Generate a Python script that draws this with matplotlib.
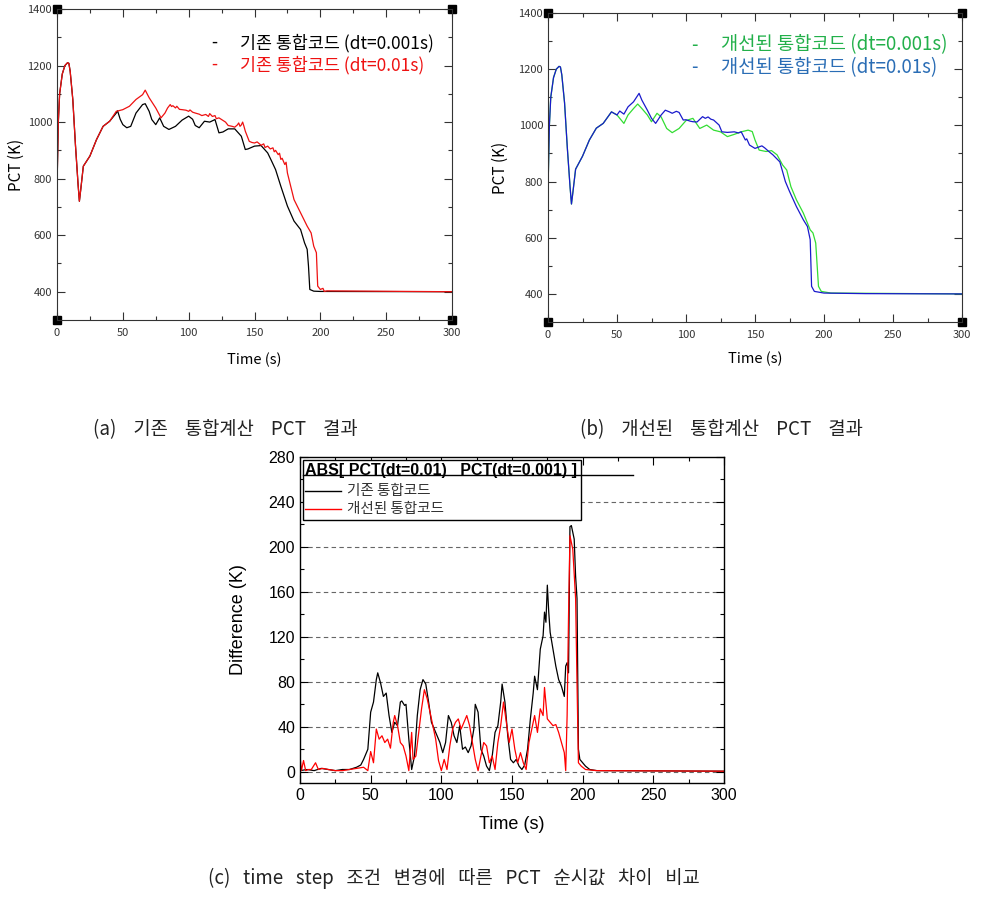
import matplotlib.pyplot as plt
from matplotlib.lines import Line2D
from matplotlib.ticker import MultipleLocator

plt.rcParams['font.family'] = ['Noto Sans CJK KR', 'DejaVu Sans']

# ---- (a) original code, PCT vs time ----
a_t_fine = [0, 1, 2, 4, 6, 8, 9, 10, 12, 14, 16, 17, 18, 20, 25, 30, 35, 40, 45, 46,
            48, 50, 53, 56, 60, 63, 65, 67, 70, 72, 75, 78, 81, 85, 90, 95, 100, 103,
            105, 108, 112, 116, 120, 123, 126, 130, 135, 140, 143, 145, 150, 155, 160,
            163, 166, 170, 175, 180, 185, 188, 190, 191, 192, 195, 200, 300]
a_pct_fine = [767, 1000, 1100, 1170, 1200, 1210, 1208, 1180, 1080, 920, 780, 720, 760,
              844, 880, 938, 985, 1003, 1032, 1040, 1010, 991, 980, 985, 1032, 1050,
              1062, 1065, 1038, 1009, 991, 1015, 985, 974, 985, 1007, 1021, 1010, 988,
              980, 1003, 1000, 1009, 962, 965, 976, 976, 950, 903, 905, 915, 917, 891,
              862, 832, 773, 703, 650, 620, 573, 550, 491, 408, 402, 401, 400]

a_t_coarse = [0, 1, 2, 4, 6, 8, 9, 10, 12, 14, 16, 17, 18, 20, 25, 30, 35, 40, 45, 50,
              55, 60, 65, 67, 70, 75, 79, 82, 84, 86, 87, 88, 90, 91, 93, 95, 98, 100,
              101, 103, 105, 108, 110, 113, 115, 116, 118, 120, 121, 123, 125, 128, 130,
              133, 135, 137, 138, 139, 140, 141, 142, 143, 146, 148, 150, 152, 155, 157,
              158, 160, 162, 164, 165, 166, 168, 169, 170, 171, 173, 174, 175, 180, 185,
              190, 193, 195, 197, 198, 200, 202, 203, 205, 300]
a_pct_coarse = [767, 1000, 1100, 1170, 1200, 1210, 1208, 1180, 1080, 920, 780, 720, 760,
                844, 880, 938, 985, 1003, 1038, 1044, 1056, 1080, 1097, 1113, 1086, 1050,
                1015, 1032, 1050, 1062, 1055, 1058, 1050, 1056, 1045, 1044, 1042, 1038,
                1043, 1035, 1032, 1028, 1023, 1027, 1020, 1030, 1020, 1023, 1012, 1015,
                1009, 1000, 988, 985, 982, 990, 997, 985, 990, 1000, 985, 968, 932, 928,
                926, 930, 918, 923, 910, 915, 905, 909, 895, 900, 885, 890, 868, 872, 850,
                858, 820, 726, 679, 632, 608, 561, 538, 420, 408, 412, 401, 403, 400]

# ---- (b) improved code, PCT vs time ----
b_t_fine = [0, 1, 2, 4, 6, 8, 9, 10, 12, 14, 16, 17, 18, 20, 25, 30, 35, 40, 46, 50,
            55, 58, 62, 65, 68, 72, 75, 79, 82, 86, 90, 95, 100, 105, 110, 115, 120, 125,
            130, 135, 140, 145, 148, 150, 153, 158, 162, 166, 170, 173, 176, 180, 185,
            190, 192, 194, 196, 198, 205, 300]
b_pct_fine = [767, 1000, 1100, 1170, 1200, 1210, 1208, 1180, 1080, 920, 780, 720, 760,
              844, 890, 948, 990, 1007, 1048, 1037, 1007, 1037, 1060, 1076, 1060, 1037,
              1013, 1043, 1030, 989, 974, 989, 1017, 1025, 989, 1001, 983, 977, 960, 968,
              977, 983, 978, 948, 912, 907, 910, 895, 859, 841, 782, 735, 688, 628, 617,
              581, 427, 409, 403, 400]

b_t_coarse = [0, 1, 2, 4, 6, 8, 9, 10, 12, 14, 16, 17, 18, 20, 25, 30, 35, 40, 46, 50,
              52, 55, 58, 62, 66, 68, 72, 75, 78, 82, 85, 88, 90, 93, 95, 98, 100, 103,
              105, 108, 112, 114, 116, 118, 120, 124, 126, 130, 135, 138, 140, 143, 144,
              146, 150, 155, 157, 160, 163, 165, 168, 172, 175, 180, 185, 188, 190, 191,
              193, 200, 230, 300]
b_pct_coarse = [767, 1000, 1100, 1170, 1200, 1210, 1208, 1180, 1080, 920, 780, 720, 760,
                844, 890, 948, 990, 1007, 1048, 1037, 1051, 1040, 1066, 1084, 1114, 1090,
                1054, 1025, 1007, 1037, 1054, 1048, 1043, 1050, 1046, 1019, 1020, 1015,
                1013, 1012, 1031, 1025, 1030, 1022, 1019, 1001, 977, 975, 977, 973, 977,
                948, 952, 930, 918, 927, 920, 907, 895, 885, 870, 800, 765, 711, 664, 640,
                593, 427, 409, 403, 401, 400]

# ---- (c) absolute difference ----
c_t_old = [0, 5, 10, 15, 20, 25, 30, 35, 40, 43, 45, 48, 50, 52, 54, 55, 57, 59, 61, 63,
           65, 67, 69, 71, 72, 74, 75, 77, 79, 81, 83, 85, 87, 89, 91, 93, 95, 97, 99,
           101, 103, 105, 107, 109, 111, 113, 115, 117, 119, 121, 123, 124, 126, 128,
           130, 132, 134, 136, 138, 140, 142, 143, 145, 147, 149, 151, 153, 155, 157,
           159, 161, 163, 165, 166, 168, 170, 172, 173, 174, 175, 176, 177, 179, 181,
           183, 185, 187, 188, 189, 190, 191, 192, 194, 195, 196, 197, 198, 200, 202,
           205, 210, 300]
c_d_old = [1, 2, 1, 3, 2, 1, 2, 2, 4, 6, 11, 20, 53, 62, 82, 88, 79, 67, 70, 50, 35, 44,
           41, 62, 63, 59, 60, 29, 2, 14, 50, 73, 82, 78, 62, 44, 38, 32, 26, 17, 26, 50,
           44, 32, 26, 41, 20, 22, 17, 23, 38, 60, 53, 20, 14, 5, 1, 14, 35, 41, 62, 78,
           62, 32, 11, 8, 11, 5, 2, 6, 20, 47, 70, 85, 73, 109, 121, 142, 133, 166, 142,
           124, 109, 94, 82, 76, 67, 94, 97, 88, 218, 219, 207, 174, 154, 20, 11, 8, 5, 2,
           1, 0.5]

c_t_new = [0, 1, 2.5, 4, 6, 8, 11, 13, 16, 20, 25, 30, 35, 40, 45, 48, 50, 52, 54, 56,
           58, 60, 62, 64, 66, 67, 69, 71, 73, 75, 77, 79, 80, 82, 84, 86, 88, 90, 92,
           94, 96, 98, 100, 102, 104, 106, 108, 110, 112, 114, 116, 118, 120, 122, 124,
           126, 128, 130, 132, 134, 136, 138, 140, 142, 144, 146, 148, 150, 152, 154,
           156, 158, 160, 162, 164, 166, 168, 170, 172, 173, 175, 177, 179, 181, 183,
           185, 187, 188, 189, 190, 191, 193, 195, 196, 197, 199, 202, 210, 300]
c_d_new = [14, 1, 10, 1, 2, 2, 8, 2, 3, 2, 1, 1, 2, 3, 4, 1, 18, 8, 38, 29, 32, 26, 29,
           21, 44, 50, 41, 26, 23, 14, 1, 35, 11, 14, 35, 56, 73, 65, 53, 41, 29, 10, 1,
           11, 2, 23, 38, 44, 47, 38, 44, 50, 41, 26, 11, 1, 14, 26, 23, 8, 14, 2, 26,
           41, 62, 44, 26, 38, 20, 8, 17, 8, 2, 26, 38, 50, 35, 56, 50, 75, 47, 44, 41,
           42, 35, 26, 17, 1, 50, 139, 210, 198, 154, 79, 8, 5, 2, 1, 0.5]

W, H = 1002, 900
fig = plt.figure(figsize=(W / 100, H / 100), dpi=100)


def box(left, top, right, bottom):
    return [left / W, 1 - bottom / H, (right - left) / W, (bottom - top) / H]


def style_pct_axes(ax, xpad, ypad):
    ax.set_xlim(0, 300)
    ax.set_ylim(300, 1400)
    ax.xaxis.set_major_locator(MultipleLocator(50))
    ax.xaxis.set_minor_locator(MultipleLocator(25))
    ax.yaxis.set_minor_locator(MultipleLocator(100))
    ax.set_yticks([400, 600, 800, 1000, 1200, 1400])
    ax.tick_params(which='both', direction='in', top=True, right=True,
                   labelsize=8, colors='#333333', width=0.8)
    ax.tick_params(which='major', length=6)
    ax.tick_params(which='minor', length=3)
    ax.tick_params(axis='x', pad=6)
    for sp in ax.spines.values():
        sp.set_linewidth(0.8)
        sp.set_color('#333333')
    ax.set_xlabel('Time (s)', fontsize=10.5, labelpad=xpad)
    ax.set_ylabel('PCT (K)', fontsize=11, labelpad=ypad)
    for xc in (0, 1):
        for yc in (0, 1):
            ax.plot(xc, yc, 's', color='black', markersize=6,
                    transform=ax.transAxes, clip_on=False)


# (a)
ax_a = fig.add_axes(box(57, 9, 452, 320))
style_pct_axes(ax_a, 10, 2)
ax_a.plot(a_t_fine, a_pct_fine, color='black', lw=0.9)
ax_a.plot(a_t_coarse, a_pct_coarse, color='#ee1111', lw=0.9)
fig.text(211 / W, 1 - 43 / H, '-', color='black', fontsize=12.5, va='center')
fig.text(240 / W, 1 - 43 / H, '기존 통합코드 (dt=0.001s)', color='black',
         fontsize=12.5, va='center')
fig.text(211 / W, 1 - 65 / H, '-', color='#ee1111', fontsize=12.5, va='center')
fig.text(240 / W, 1 - 65 / H, '기존 통합코드 (dt=0.01s)', color='#ee1111',
         fontsize=12.5, va='center')

# (b)
ax_b = fig.add_axes(box(548, 13, 962, 322))
style_pct_axes(ax_b, 8, 7)
ax_b.plot(b_t_fine, b_pct_fine, color='#33dd33', lw=0.9)
ax_b.plot(b_t_coarse, b_pct_coarse, color='#1a1acc', lw=0.9)
fig.text(691 / W, 1 - 45 / H, '-', color='#22b04a', fontsize=13.5, va='center')
fig.text(721 / W, 1 - 45 / H, '개선된 통합코드 (dt=0.001s)', color='#22b04a',
         fontsize=13.5, va='center')
fig.text(691 / W, 1 - 68 / H, '-', color='#2a6db5', fontsize=13.5, va='center')
fig.text(721 / W, 1 - 68 / H, '개선된 통합코드 (dt=0.01s)', color='#2a6db5',
         fontsize=13.5, va='center')

# captions (wide spacing between words as in the original document)
fig.text(93 / W, 1 - 430 / H, '    '.join(['(a)', '기존', '통합계산', 'PCT', '결과']),
         ha='left', va='center', fontsize=13.5, color='#222222')
fig.text(580 / W, 1 - 430 / H, '    '.join(['(b)', '개선된', '통합계산', 'PCT', '결과']),
         ha='left', va='center', fontsize=13.5, color='#222222')
fig.text(208 / W, 1 - 878 / H,
         '   '.join(['(c)', 'time', 'step', '조건', '변경에', '따른', 'PCT', '순시값',
                     '차이', '비교']),
         ha='left', va='center', fontsize=13.5, color='#222222')

# (c)
ax_c = fig.add_axes(box(300, 457, 724, 783))
ax_c.set_xlim(0, 300)
ax_c.set_ylim(-10, 280)
ax_c.set_yticks([0, 40, 80, 120, 160, 200, 240, 280])
ax_c.xaxis.set_major_locator(MultipleLocator(50))
ax_c.xaxis.set_minor_locator(MultipleLocator(25))
ax_c.yaxis.set_minor_locator(MultipleLocator(20))
for g in [0, 40, 80, 120, 160, 200, 240]:
    ax_c.axhline(g, color='#666666', lw=0.8, ls=(0, (4, 3)), zorder=0)
ax_c.plot(c_t_old, c_d_old, color='black', lw=0.9)
ax_c.plot(c_t_new, c_d_new, color='#ff0000', lw=0.9)
ax_c.tick_params(which='both', direction='in', top=True, right=True,
                 labelsize=11.5, width=0.8, labelfontfamily='Liberation Sans')
ax_c.tick_params(which='major', length=6)
ax_c.tick_params(which='minor', length=3)
for s in ax_c.spines.values():
    s.set_linewidth(1.0)
ax_c.set_xlabel('Time (s)', fontsize=13, family='Liberation Sans')
ax_c.set_ylabel('Difference (K)', fontsize=13, family='Liberation Sans')
ax_c.xaxis.set_label_coords(0.5, -0.10)
ax_c.yaxis.set_label_coords(-0.125, 0.5)

# (c) legend box
fig.patches.append(plt.Rectangle((303 / W, 1 - 520 / H), (581 - 303) / W, 60 / H,
                                 transform=fig.transFigure, fill=True,
                                 facecolor='white', edgecolor='black', lw=1.0,
                                 zorder=5))
fig.text(305 / W, 1 - 471 / H, 'ABS[ PCT(dt=0.01)   PCT(dt=0.001) ]',
         fontsize=11.5, fontweight='bold', family='Liberation Sans', va='center',
         zorder=6)
fig.add_artist(Line2D([303 / W, 633 / W], [1 - 475 / H, 1 - 475 / H],
                      color='black', lw=1.0, zorder=6))
fig.add_artist(Line2D([305 / W, 341 / W], [1 - 491 / H, 1 - 491 / H],
                      color='black', lw=1.0, zorder=6))
fig.add_artist(Line2D([305 / W, 341 / W], [1 - 509 / H, 1 - 509 / H],
                      color='#ff0000', lw=1.0, zorder=6))
fig.text(347 / W, 1 - 491 / H, '기존 통합코드', fontsize=10.5, color='#333333',
         va='center', zorder=6)
fig.text(347 / W, 1 - 509 / H, '개선된 통합코드', fontsize=10.5, color='#333333',
         va='center', zorder=6)

fig.savefig('out.png', dpi=100)
